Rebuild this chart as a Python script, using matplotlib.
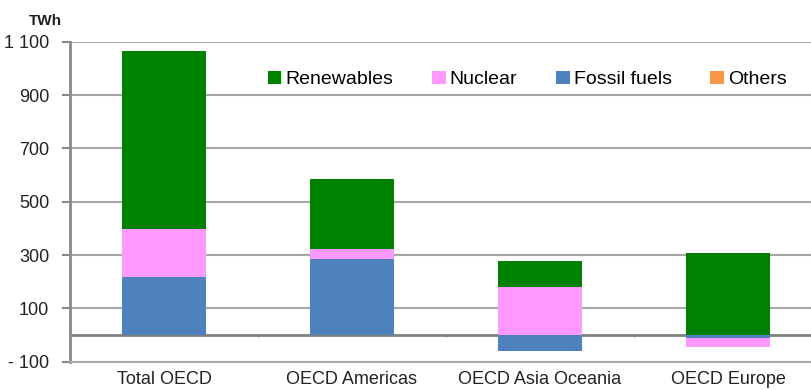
import numpy as np
import matplotlib.pyplot as plt

plt.rcParams['font.family'] = ['Liberation Sans', 'DejaVu Sans']

categories = ['Total OECD', 'OECD Americas', 'OECD Asia Oceania', 'OECD Europe']
renewables = [669, 263, 99, 306]
nuclear = [180, 36, 179, -34]
fossil = [216, 285, -60, -12]
others = [0, 0, 0, 0]

series = [('Fossil fuels', fossil, '#4F81BD'),
          ('Nuclear', nuclear, '#FF99FF'),
          ('Renewables', renewables, '#008000'),
          ('Others', others, '#F79646')]

yticks = [-100, 100, 300, 500, 700, 900, 1100]
ytick_labels = ['- 100', '100', '300', '500', '700', '900', '1 100']

fig = plt.figure(figsize=(8.12, 3.9), dpi=100)
ax = fig.add_axes([70 / 812, 28.3 / 390, 752 / 812, 320 / 390])

x = np.arange(len(categories))
pos_base = np.zeros(len(categories))
neg_base = np.zeros(len(categories))
handles = {}
for name, vals, col in series:
    v = np.array(vals, dtype=float)
    bottom = np.where(v >= 0, pos_base, neg_base)
    b = ax.bar(x, v, 0.45, bottom=bottom, color=col, label=name, zorder=3)
    handles[name] = b
    pos_base += np.where(v >= 0, v, 0)
    neg_base += np.where(v < 0, v, 0)

ax.set_xlim(-0.5, len(categories) - 0.5)
ax.set_ylim(-100, 1100)
ax.set_yticks(yticks)
ax.set_yticklabels(ytick_labels, fontsize=13, color='#222222')
ax.set_xticks(x)
ax.set_xticklabels(categories, fontsize=13, color='#222222')
ax.tick_params(axis='x', length=0, pad=7)
ax.tick_params(axis='y', length=6, width=1.5, color='#888888', pad=9)

ax.grid(axis='y', color='#A6A6A6', lw=1.5, zorder=1)
ax.axhline(0, color='#808080', lw=2, zorder=2)
ax.vlines(x[:-1] + 0.5, -6, 4, color='#808080', lw=1, zorder=2)

for s in ['top', 'right']:
    ax.spines[s].set_visible(False)
ax.spines['left'].set_color('#888888')
ax.spines['left'].set_linewidth(2)
ax.spines['bottom'].set_color('#A6A6A6')
ax.spines['bottom'].set_linewidth(1.5)

fig.text(29 / 812, 1 - 21 / 390, 'TWh', fontsize=11, fontweight='bold',
         va='center', ha='left', color='#222222')

order = ['Renewables', 'Nuclear', 'Fossil fuels', 'Others']
leg = fig.legend([handles[n] for n in order], order, loc='upper left',
                 bbox_to_anchor=(258 / 812, 1 - 61 / 390), ncol=4, frameon=False,
                 fontsize=14, handlelength=0.7, handleheight=0.7,
                 handletextpad=0.2, columnspacing=2.0, borderpad=0)

fig.savefig('out.png', dpi=100)
